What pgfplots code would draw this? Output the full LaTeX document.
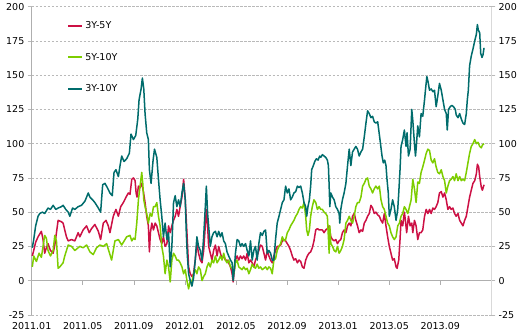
\documentclass[border=0pt]{standalone}
\usepackage{fontspec}
\setmainfont{DejaVu Sans}
\usepackage{pgfplots}
\pgfplotsset{compat=1.18}
\definecolor{cA}{RGB}{204,16,68}
\definecolor{cB}{RGB}{125,205,0}
\definecolor{cC}{RGB}{0,108,108}
\definecolor{gridc}{RGB}{185,185,185}
\definecolor{axc}{RGB}{175,175,175}
\begin{document}
\fontsize{9.5}{11}\selectfont
\begin{tikzpicture}
\begin{axis}[
  scale only axis, width=458bp, height=307bp,
  xmin=0, xmax=36, ymin=-25, ymax=200,
  ytick={-25,0,...,200},
  xtick={0,4,...,32},
  xticklabels={2011.01,2011.05,2011.09,2012.01,2012.05,2012.09,2013.01,2013.05,2013.09},
  separate axis lines,
  x axis line style={draw=none},
  y axis line style={draw=axc, line width=0.8pt},
  ymajorgrids,
  grid style={gridc, dash pattern=on 2.5bp off 1.5bp, line width=0.6pt},
  ytick pos=both, yticklabel pos=left, tick align=outside,
  major tick length=4bp,
  ytick style={gridc, line width=0.6pt},
  xtick style={draw=none},
  /pgf/number format/assume math mode=true,
  tick label style={font=\fontsize{9.5}{11}\selectfont},
  legend cell align=left,
  legend style={at={(rel axis cs:0.07,0.966)}, anchor=north west, fill=none,
    draw opacity=0, font=\fontsize{9.5}{11}\selectfont, row sep=19bp},
  every axis plot/.append style={line width=1.5bp, line join=round},
]
\draw[axc, line width=0.8pt] (axis cs:0,0) -- (axis cs:36,0);
\pgfplotsinvokeforeach{4,8,...,32}{ \draw[axc, line width=0.6pt] (axis cs:#1,0) -- ([yshift=-4bp]axis cs:#1,0); }

\addplot[cA, legend image code/.code={\draw[draw=cA, draw opacity=1, line width=2.2bp] (0bp,0bp) -- (14bp,0bp);}] table {
0.05 18
0.16 22
0.31 28
0.50 32
0.76 36
0.89 30
1.02 20
1.15 24
1.28 27
1.47 22
1.68 20
1.81 26
2.07 44
2.33 43
2.46 42
2.72 32
2.86 29
3.12 30
3.38 29
3.64 35
3.77 32
4.03 37
4.30 40
4.51 35
4.69 38
4.95 41
5.22 36
5.40 30
5.61 42
5.82 44
6.00 40
6.13 35
6.39 47
6.60 52
6.79 47
6.97 54
7.18 57
7.39 61
7.57 64
7.70 63
7.84 74
7.97 75
8.10 73
8.18 64
8.25 61
8.36 69
8.49 68
8.62 71
8.75 65
8.88 57
9.01 47
9.14 40
9.22 21
9.30 35
9.41 42
9.54 37
9.67 42
9.80 40
9.93 35
10.06 30
10.19 27
10.32 32
10.45 25
10.59 27
10.72 40
10.85 35
10.98 40
11.11 44
11.24 47
11.37 52
11.50 47
11.63 54
11.77 61
11.90 74
12.03 59
12.16 35
12.29 10
12.42 5
12.55 3
12.68 5
12.81 15
12.94 27
13.07 20
13.21 15
13.34 13
13.47 22
13.60 40
13.68 52
13.78 40
13.86 25
13.99 20
14.12 15
14.25 22
14.39 26
14.52 18
14.65 25
14.78 20
14.91 16
15.04 18
15.17 15
15.30 15
15.43 13
15.57 10
15.70 5
15.78 -1
15.88 8
15.96 15
16.09 18
16.22 15
16.35 18
16.48 16
16.61 18
16.75 15
16.88 20
17.01 13
17.14 15
17.27 13
17.40 10
17.53 15
17.66 18
17.79 22
17.92 26
18.06 25
18.19 20
18.32 15
18.45 22
18.58 18
18.71 15
18.84 13
18.97 18
19.10 22
19.23 25
19.37 25
19.50 26
19.63 29
19.76 30
19.89 29
20.02 27
20.15 25
20.28 22
20.41 18
20.54 15
20.68 16
20.81 13
20.94 15
21.07 14
21.20 10
21.33 9
21.46 15
21.59 18
21.72 20
21.85 21
21.98 24
22.11 29
22.25 37
22.38 38
22.51 37
22.64 37
22.77 37
22.90 35
23.03 37
23.16 38
23.30 40
23.43 32
23.56 30
23.69 29
23.82 30
23.95 27
24.08 29
24.21 30
24.34 35
24.47 37
24.61 35
24.74 40
24.87 42
25.00 40
25.13 47
25.26 49
25.39 44
25.52 40
25.65 35
25.79 37
25.92 36
26.05 42
26.18 44
26.31 47
26.44 49
26.57 55
26.70 53
26.83 49
26.96 50
27.10 48
27.23 47
27.36 44
27.49 42
27.62 49
27.75 40
27.88 32
28.01 25
28.14 20
28.27 15
28.40 16
28.54 10
28.62 9
28.75 15
28.85 30
28.93 44
29.06 40
29.19 50
29.27 44
29.37 35
29.51 47
29.64 40
29.77 42
29.85 35
29.98 44
30.11 40
30.24 30
30.37 35
30.50 35
30.63 37
30.77 47
30.90 52
31.03 49
31.16 52
31.29 49
31.42 53
31.55 52
31.68 54
31.81 57
31.94 64
32.08 65
32.21 61
32.34 64
32.47 59
32.60 52
32.73 54
32.86 52
32.99 53
33.12 49
33.25 47
33.39 49
33.52 44
33.65 42
33.78 40
33.91 44
34.04 47
34.17 54
34.30 61
34.43 66
34.56 71
34.70 73
34.83 78
34.91 85
35.01 83
35.09 76
35.22 68
35.30 66
35.43 70
};
\addlegendentry{3Y-5Y}

\addplot[cB, legend image code/.code={\draw[draw=cB, draw opacity=1, line width=2.2bp] (0bp,0bp) -- (14bp,0bp);}] table {
0.05 10
0.16 18
0.37 14
0.58 20
0.76 17
1.02 33
1.15 31
1.28 22
1.47 18
1.68 22
1.81 33
1.94 29
2.07 9
2.20 10
2.46 13
2.59 18
2.86 26
3.12 25
3.38 22
3.77 25
4.03 24
4.30 26
4.56 21
4.82 19
5.08 24
5.35 26
5.61 25
5.87 27
6.26 15
6.52 29
6.79 30
7.05 26
7.44 32
7.70 33
7.84 29
7.97 31
8.10 30
8.23 42
8.36 59
8.49 69
8.62 79
8.70 71
8.78 59
8.88 54
9.01 49
9.14 42
9.28 49
9.41 47
9.54 54
9.67 54
9.80 57
9.93 47
10.06 40
10.19 25
10.32 18
10.45 5
10.59 15
10.72 10
10.85 -1
10.98 15
11.11 20
11.24 18
11.37 15
11.50 15
11.63 13
11.77 10
11.90 5
12.03 8
12.16 0
12.29 -6
12.42 0
12.55 -1
12.68 5
12.81 8
12.94 5
13.07 10
13.21 8
13.34 0
13.47 3
13.60 5
13.73 10
13.86 13
13.99 10
14.12 15
14.25 13
14.39 18
14.52 13
14.65 15
14.78 18
14.91 15
15.04 20
15.17 15
15.30 13
15.43 15
15.57 10
15.70 9
15.83 5
15.96 13
16.09 15
16.22 10
16.35 9
16.48 8
16.61 10
16.75 8
16.88 9
17.01 5
17.14 8
17.27 12
17.40 10
17.53 9
17.66 12
17.79 9
17.92 10
18.06 8
18.19 9
18.32 10
18.45 8
18.58 10
18.71 9
18.84 5
18.97 15
19.10 16
19.23 22
19.37 25
19.50 27
19.63 32
19.76 29
19.89 30
20.02 35
20.15 37
20.28 40
20.41 42
20.54 44
20.68 47
20.81 49
20.94 52
21.07 54
21.20 53
21.33 57
21.46 47
21.54 37
21.64 33
21.75 37
21.85 47
21.98 54
22.11 59
22.25 57
22.38 52
22.51 54
22.64 52
22.77 52
22.90 50
23.03 49
23.16 47
23.30 20
23.35 40
23.43 27
23.56 25
23.69 22
23.82 21
23.95 25
24.08 20
24.21 22
24.34 25
24.47 30
24.61 42
24.74 44
24.87 47
25.00 44
25.13 42
25.26 47
25.39 54
25.52 57
25.65 57
25.79 61
25.92 69
26.05 71
26.18 74
26.31 75
26.44 69
26.57 67
26.70 64
26.83 67
26.96 69
27.10 67
27.23 69
27.36 59
27.49 54
27.62 52
27.75 47
27.88 42
28.01 40
28.14 35
28.27 32
28.40 30
28.54 32
28.67 40
28.80 42
28.93 47
29.06 49
29.19 54
29.32 52
29.46 49
29.59 54
29.72 59
29.85 74
29.98 67
30.11 57
30.24 72
30.37 71
30.50 79
30.63 83
30.77 88
30.90 93
31.03 96
31.16 95
31.29 88
31.42 86
31.55 89
31.68 83
31.81 79
31.94 78
32.08 81
32.21 76
32.34 73
32.47 64
32.60 69
32.73 73
32.86 74
32.99 76
33.12 73
33.25 78
33.39 73
33.52 76
33.65 73
33.78 74
33.91 73
34.04 79
34.17 86
34.30 93
34.43 98
34.56 100
34.70 103
34.83 100
34.96 101
35.09 98
35.22 97
35.30 99
35.43 100
};
\addlegendentry{5Y-10Y}

\addplot[cC, legend image code/.code={\draw[draw=cC, draw opacity=1, line width=2.2bp] (0bp,0bp) -- (14bp,0bp);}] table {
0.05 24
0.16 30
0.31 40
0.50 47
0.63 49
0.84 50
1.02 49
1.28 53
1.47 52
1.68 55
1.89 52
2.07 53
2.33 54
2.46 55
2.67 52
2.86 50
2.99 47
3.20 53
3.38 52
3.64 54
3.90 55
4.17 58
4.43 64
4.56 61
4.77 59
4.95 57
5.22 53
5.40 50
5.56 70
5.74 71
5.92 68
6.13 64
6.31 62
6.45 79
6.60 81
6.79 76
6.92 84
7.05 91
7.23 87
7.44 89
7.65 93
7.78 107
7.97 103
8.15 106
8.31 118
8.41 132
8.57 140
8.67 148
8.78 140
8.88 122
9.01 108
9.14 103
9.22 81
9.35 71
9.51 88
9.62 96
9.80 90
9.93 74
10.06 59
10.19 47
10.32 32
10.45 42
10.59 30
10.72 35
10.85 10
10.98 25
11.11 57
11.24 62
11.37 54
11.50 59
11.63 54
11.77 64
11.90 71
12.03 59
12.11 35
12.18 20
12.29 5
12.42 0
12.55 -4
12.68 2
12.81 15
12.94 32
13.07 25
13.21 22
13.34 15
13.47 32
13.60 54
13.68 69
13.78 49
13.86 40
13.99 25
14.12 32
14.25 35
14.39 36
14.52 32
14.65 36
14.78 32
14.91 35
15.04 29
15.17 27
15.30 21
15.43 18
15.57 15
15.70 13
15.78 0
15.88 10
15.96 20
16.09 30
16.22 29
16.35 25
16.48 27
16.61 25
16.75 27
16.88 22
17.01 18
17.14 29
17.27 15
17.40 22
17.53 25
17.66 15
17.79 27
17.92 35
18.06 33
18.19 36
18.32 37
18.45 20
18.58 22
18.71 20
18.84 15
18.97 15
19.10 30
19.23 42
19.37 47
19.50 52
19.63 57
19.76 59
19.89 69
20.02 64
20.15 67
20.28 59
20.41 61
20.54 64
20.68 65
20.81 69
20.94 68
21.07 69
21.20 64
21.33 57
21.46 54
21.54 47
21.64 54
21.75 59
21.85 69
21.93 81
22.06 84
22.17 87
22.30 89
22.43 88
22.56 91
22.64 90
22.77 92
22.90 91
23.03 90
23.16 88
23.24 84
23.30 69
23.35 54
23.43 64
23.56 61
23.69 59
23.82 54
23.95 52
24.08 49
24.13 42
24.21 52
24.34 59
24.47 64
24.61 71
24.74 84
24.87 96
25.00 84
25.13 94
25.26 96
25.39 98
25.52 96
25.65 91
25.79 94
25.92 96
26.05 105
26.18 115
26.31 124
26.44 122
26.57 119
26.70 120
26.83 116
26.96 115
27.10 116
27.17 111
27.28 103
27.44 91
27.54 86
27.65 88
27.75 84
27.83 74
27.93 64
28.01 47
28.14 52
28.27 59
28.40 54
28.54 44
28.67 52
28.75 64
28.85 81
28.93 98
29.06 103
29.19 110
29.32 98
29.40 108
29.51 91
29.64 96
29.77 125
29.85 117
29.98 100
30.06 91
30.11 96
30.24 113
30.37 105
30.50 122
30.63 120
30.77 132
30.84 139
30.95 149
31.05 145
31.16 139
31.29 140
31.42 138
31.55 139
31.68 127
31.81 135
31.94 144
32.08 139
32.21 132
32.34 125
32.47 122
32.55 110
32.65 125
32.78 127
32.91 128
33.04 127
33.18 125
33.25 121
33.39 119
33.52 122
33.65 118
33.78 115
33.91 114
34.04 122
34.12 132
34.20 139
34.30 157
34.43 164
34.56 169
34.70 175
34.83 180
34.91 187
34.98 183
35.09 181
35.17 166
35.27 163
35.35 165
35.43 170
};
\addlegendentry{3Y-10Y}
\end{axis}

\begin{axis}[
  scale only axis, width=458bp, height=307bp,
  xmin=0, xmax=36, ymin=-25, ymax=200,
  hide x axis,
  axis y line*=right,
  y axis line style={draw=black!15, line width=1.6pt, -},
  ytick={-25,0,...,200},
  tick align=outside, major tick length=4bp,
  ytick style={gridc, line width=0.6pt},
  /pgf/number format/assume math mode=true,
  tick label style={font=\fontsize{9.5}{11}\selectfont},
]
\end{axis}
\path ([xshift=-3bp]current bounding box.west) ([xshift=3bp]current bounding box.east);
\end{tikzpicture}
\end{document}
